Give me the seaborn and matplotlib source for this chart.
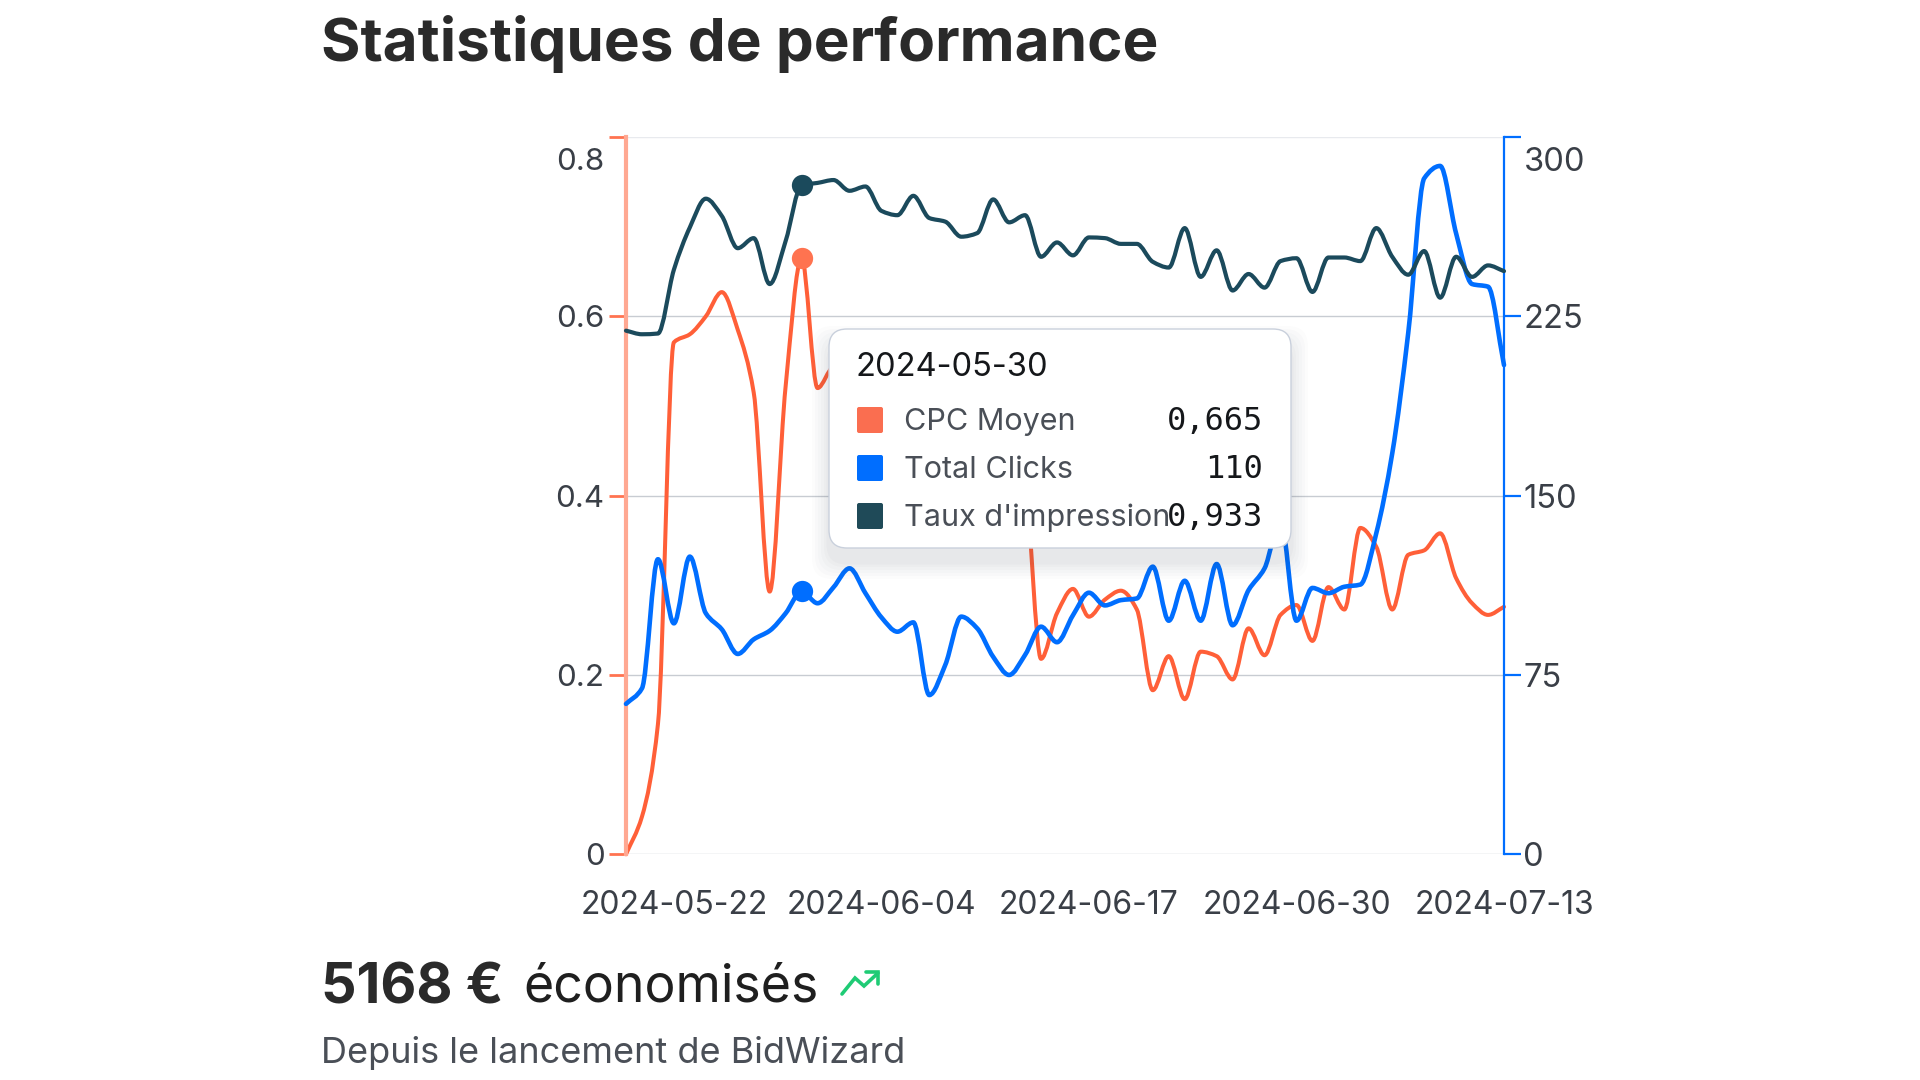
import matplotlib
matplotlib.use("Agg")
import matplotlib.pyplot as plt
import matplotlib.dates as mdates
from matplotlib.patches import FancyBboxPatch, PathPatch
from matplotlib.path import Path
from matplotlib.transforms import ScaledTranslation
import numpy as np
import pandas as pd
import seaborn as sns

# Values (cpc 14-25 sit behind the tooltip, so they are guesses)
start_date = "2024-05-19"
hover_date = "2024-05-30"
cpc = [0, .042, .145, .571, .580, .600, .627, .585, .515, .293, .522, .665, .520, .543,
       .53, .52, .50, .51, .49, .50, .48, .47, .46, .48, .45, .41,
       .218, .269, .296, .265, .284, .294, .273, .183, .221, .173, .226, .221, .195, .252,
       .222, .267, .278, .238, .298, .273, .364, .343, .273, .334, .339, .358, .308, .280,
       .267, .276]
clicks = [62.9, 69.4, 123.4, 96.6, 124.5, 100.8, 94.1, 83.8, 89.9, 93.5, 100.8, 110, 105, 111.7,
          119.6, 109.2, 99.1, 93.1, 97, 66.6, 79.2, 99.4, 94.5, 82.6, 75, 83.4,
          95.2, 88.7, 100, 109.4, 104.1, 106.3, 107, 120.3, 97.7, 114.4, 97.7, 121.4, 95.8, 110.5,
          119.6, 139.8, 97.7, 111.4, 109.2, 111.9, 112.8, 134.3, 167.7, 218, 282.7, 287.9, 259.7, 238.5,
          237.4, 204.6]
impressions = [.730, .725, .726, .815, .874, .914, .890, .845, .859, .795, .855, .933, .936, .940,
               .925, .931, .897, .891, .918, .887, .882, .861, .866, .913, .881, .891,
               .833, .853, .835, .860, .859, .851, .851, .826, .818, .873, .805, .842, .786, .809,
               .790, .827, .831, .784, .832, .832, .827, .873, .833, .808, .841, .776, .833, .805,
               .821, .813]
left_ticks = [0, 0.2, 0.4, 0.6, 0.8]
left_labels = ["0", "0.2", "0.4", "0.6", "0.8"]
right_ticks = [0, 75, 150, 225, 300]
x_labels = ["2024-05-22", "2024-06-04", "2024-06-17", "2024-06-30", "2024-07-13"]
tooltip_names = ["CPC Moyen", "Total Clicks", "Taux d'impression"]
tooltip_values = ["0,665", "110", "0,933"]

ORANGE = "#FF5F38"
BLUE = "#006EFF"
DARK = "#1B4A5C"
W, H = 1920, 1080

df = pd.DataFrame({
    "date": pd.date_range(start_date, periods=len(cpc), freq="D"),
    "cpc": cpc,
    "clicks": clicks,
    "impressions": impressions,
})
hover = df[df["date"] == hover_date]


def round_line(a, line):
    # Redraw a seaborn line as monotone bezier segments, same points, only the joins are curved
    xy = line.get_xydata()
    x, y = xy[:, 0], xy[:, 1]
    step = np.diff(x)
    slope = np.diff(y) / step
    tang = np.zeros(len(y))
    tang[0], tang[-1] = slope[0], slope[-1]
    for i in range(1, len(y) - 1):
        if slope[i - 1] * slope[i] > 0:
            tang[i] = 2 * slope[i - 1] * slope[i] / (slope[i - 1] + slope[i])
    verts = [(x[0], y[0])]
    codes = [Path.MOVETO]
    for i in range(len(y) - 1):
        verts.append((x[i] + step[i] / 3, y[i] + tang[i] * step[i] / 3))
        verts.append((x[i + 1] - step[i] / 3, y[i + 1] - tang[i + 1] * step[i] / 3))
        verts.append((x[i + 1], y[i + 1]))
        codes += [Path.CURVE4, Path.CURVE4, Path.CURVE4]
    a.add_patch(PathPatch(Path(verts, codes), facecolor="none", edgecolor=line.get_color(),
                          linewidth=line.get_linewidth(), capstyle="round", joinstyle="round",
                          clip_on=False))
    line.set_visible(False)


sns.set_theme(style="white")
plt.rcParams["font.family"] = ["Inter", "DejaVu Sans"]

fig = plt.figure(figsize=(19.2, 10.8), dpi=100, facecolor="white")

# plot area in pixels: x 626-1504, y 137-854
ax = fig.add_axes([626 / W, 1 - 854.3 / H, 878 / W, 717.3 / H])
ax2 = ax.twinx()
ax3 = ax.twinx()

sns.lineplot(data=df, x="date", y="cpc", ax=ax, color=ORANGE, linewidth=2.9)
sns.lineplot(data=df, x="date", y="clicks", ax=ax2, color=BLUE, linewidth=3.3)
sns.lineplot(data=df, x="date", y="impressions", ax=ax3, color=DARK, linewidth=3.0)
for a in (ax, ax2, ax3):
    round_line(a, a.get_lines()[0])

sns.scatterplot(data=hover, x="date", y="cpc", ax=ax, color="#FF7350", s=235, linewidth=0, zorder=5, clip_on=False)
sns.scatterplot(data=hover, x="date", y="clicks", ax=ax2, color=BLUE, s=235, linewidth=0, zorder=5, clip_on=False)
sns.scatterplot(data=hover, x="date", y="impressions", ax=ax3, color=DARK, s=235, linewidth=0, zorder=5, clip_on=False)

x_min, x_max = df["date"].iloc[0], df["date"].iloc[-1]
for a in (ax, ax2, ax3):
    a.set_xlim(x_min, x_max)
    a.set_xlabel("")
    a.set_ylabel("")
ax.set_ylim(0, 0.8)
ax2.set_ylim(0, 300)
ax3.set_ylim(0, 1)
ax3.set_axis_off()

ax.set_xticks(pd.to_datetime(x_labels))
ax.xaxis.set_major_formatter(mdates.DateFormatter("%Y-%m-%d"))
ax.tick_params(axis="x", length=0, pad=26, labelsize=23, labelcolor="#3a3f47")

ax.set_yticks(left_ticks)
ax.set_yticklabels(left_labels)
ax.tick_params(axis="y", length=12, width=2, color="#FF7350", pad=3.5, labelsize=22.5, labelcolor="#3a3f47")
ax2.set_yticks(right_ticks)
ax2.tick_params(axis="y", length=12, width=1.6, color=BLUE, pad=2, labelsize=23.5, labelcolor="#3a3f47")

ax.grid(axis="y", color="#c8ccd2", linewidth=1)
ax.grid(axis="x", visible=False)
ax2.grid(False)
ax.set_axisbelow(True)
ax.yaxis.get_gridlines()[-1].set_color("#e8eaee")

for a in (ax, ax2):
    a.patch.set_visible(False)
    for side in ("top", "bottom", "left", "right"):
        a.spines[side].set_visible(False)
ax.spines["left"].set_visible(True)
ax.spines["left"].set_color("#FFA892")
ax.spines["left"].set_linewidth(3)
ax2.spines["right"].set_visible(True)
ax2.spines["right"].set_color(BLUE)
ax2.spines["right"].set_linewidth(1.6)

# top labels sit below their tick, inside the plot height
shift = ScaledTranslation(0, -0.22, fig.dpi_scale_trans)
for a in (ax, ax2):
    top_label = a.get_yticklabels()[-1]
    top_label.set_transform(top_label.get_transform() + shift)

# overlay in pixel coordinates for tooltip and page text
page = fig.add_axes([0, 0, 1, 1], zorder=10)
page.set_xlim(0, W)
page.set_ylim(H, 0)
page.set_axis_off()
page.patch.set_visible(False)

# tooltip shadow, then box
for grow, alpha in [(34, .012), (28, .014), (22, .016), (16, .018), (10, .02), (5, .022)]:
    page.add_patch(FancyBboxPatch((829 - grow / 2, 329 + 14 - grow / 2), 462 + grow, 219 + grow,
                                  boxstyle="round,pad=0,rounding_size=20", facecolor="#303a50",
                                  edgecolor="none", alpha=alpha))
page.add_patch(FancyBboxPatch((829, 329), 462, 219, boxstyle="round,pad=0,rounding_size=18",
                              facecolor="white", edgecolor="#c9d0dc", linewidth=1))
page.text(856, 368, hover_date, fontsize=23.5, color="#15171a", va="center", ha="left")
swatches = ["#FA6E50", BLUE, "#1F4A58"]
rows = [420, 468, 516]
for name, value, colour, row in zip(tooltip_names, tooltip_values, swatches, rows):
    page.add_patch(FancyBboxPatch((857, row - 13), 26, 26, boxstyle="round,pad=0,rounding_size=2",
                                  facecolor=colour, edgecolor="none"))
    page.text(904, row + 2, name, fontsize=22, color="#4a4f57", va="center", ha="left")
    page.text(1263, row + 2, value, fontsize=23, color="#15171a", va="center", ha="right",
              family="DejaVu Sans Mono")

# page text
page.text(321, 44, "Statistiques de performance", fontsize=43.4, fontweight="bold", color="#2a2a2a",
          va="center", ha="left")
page.text(321, 988, "5168 €", fontsize=40, fontweight="bold", color="#2a2a2a", va="center", ha="left")
page.text(523, 988, "économisés", fontsize=37.3, color="#1f1f1f", va="center", ha="left")
page.text(321, 1053, "Depuis le lancement de BidWizard", fontsize=26, color="#4a4f57", va="center", ha="left")

# trending-up icon
page.plot([842, 855, 864, 878], [994, 978, 986, 973], color="#1FCB75", linewidth=2.6,
          solid_joinstyle="miter")
page.plot([866, 878, 878], [972, 972, 984], color="#1FCB75", linewidth=2.6, solid_joinstyle="miter")

fig.savefig("out.png", dpi=100, facecolor="white")
